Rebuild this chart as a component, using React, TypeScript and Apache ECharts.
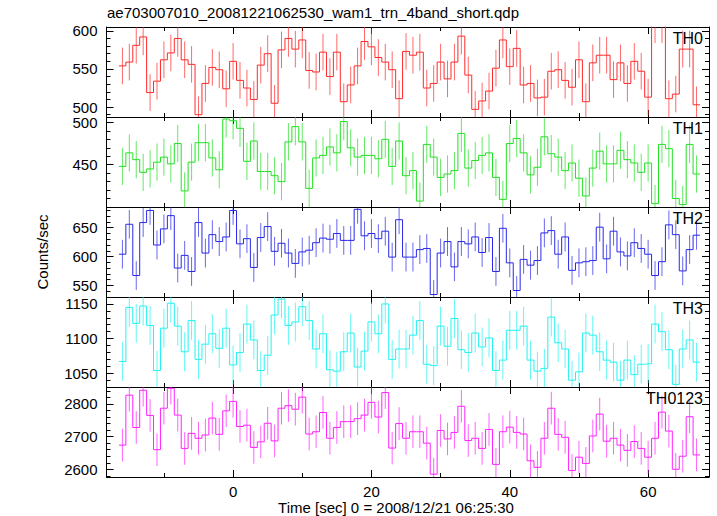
import React, { useEffect, useRef } from "react";
import * as echarts from "echarts";

const TITLE = "ae703007010_20081221062530_wam1_trn_4band_short.qdp";
const X_LABEL = "Time [sec] 0 = 2008/12/21 06:25:30";
const Y_LABEL = "Counts/sec";
const BAND_NAMES = ["TH0", "TH1", "TH2", "TH3", "TH0123"];
const COLORS = ["#ff2a2a", "#22e022", "#2828e8", "#22f2f2", "#ff22ff"];

// first bin centre (sec), bin width 1 sec
const TIME_START = -16;

const TH0 = [
  554, 559, 581, 592, 519, 534, 562, 571, 590, 562, 556, 490, 531, 552, 549, 524, 560, 535, 525, 510, 555,
  570, 505, 575, 590, 576, 588, 548, 546, 572, 540, 572, 507, 529, 554, 586, 579, 565, 559, 549, 511,
  573, 568, 572, 525, 531, 559, 537, 559, 593, 542, 497, 508, 521, 551, 588, 553, 577, 529, 531, 512,
  513, 547, 549, 535, 526, 562, 507, 558, 568, 568, 536, 558, 531, 560, 547, 513, 608, 608, 511, 517,
  576, 576, 503,
];
const TH1 = [
  448, 464, 456, 441, 445, 453, 459, 451, 475, 419, 453, 476, 476, 458, 444, 504, 502, 493, 454, 478, 442,
  442, 437, 430, 477, 495, 477, 422, 458, 461, 471, 464, 501, 470, 459, 461, 461, 457, 480, 448, 478,
  437, 443, 407, 474, 459, 435, 439, 443, 487, 446, 455, 461, 464, 435, 409, 475, 481, 464, 438, 447,
  483, 463, 459, 443, 452, 434, 413, 446, 466, 451, 451, 467, 456, 452, 441, 452, 404, 474, 469, 410,
  403, 474, 439,
];
const TH2 = [
  604, 656, 567, 659, 680, 620, 648, 671, 580, 602, 574, 659, 606, 638, 626, 634, 680, 622, 631, 581, 633,
  652, 609, 623, 606, 588, 608, 611, 624, 632, 630, 640, 628, 628, 682, 636, 640, 631, 644, 599, 664,
  599, 599, 612, 614, 534, 606, 626, 582, 626, 622, 634, 607, 633, 574, 649, 589, 541, 595, 585, 593,
  641, 645, 604, 634, 576, 589, 591, 593, 651, 596, 644, 608, 601, 624, 614, 604, 567, 591, 655, 638,
  575, 612, 637,
];
const TH3 = [
  1067, 1145, 1122, 1147, 1119, 1054, 1115, 1151, 1118, 1081, 1126, 1070, 1092, 1107, 1086, 1115, 1062,
  1080, 1121, 1098, 1054, 1076, 1134, 1157, 1119, 1124, 1146, 1126, 1085, 1107, 1055, 1053, 1081, 1108,
  1059, 1082, 1124, 1107, 1150, 1070, 1085,
  1085, 1105, 1126, 1063, 1061, 1118, 1089, 1129, 1084, 1080, 1108, 1088, 1101, 1054, 1069, 1112, 1112,
  1118, 1069, 1053, 1057, 1131, 1094, 1085, 1040, 1052, 1108, 1105, 1081, 1069, 1066, 1040, 1069, 1048,
  1063, 1064, 1121, 1110, 1084, 1034, 1085, 1098, 1066,
];
const TH0123 = [
  2674, 2827, 2728, 2842, 2765, 2660, 2787, 2848, 2766, 2664, 2710, 2695, 2705, 2757, 2707, 2779, 2808,
  2731, 2735, 2667, 2684, 2741, 2687, 2787, 2795, 2784, 2821, 2708, 2715, 2774, 2695, 2728, 2746, 2746,
  2755, 2766, 2805, 2760, 2835, 2665, 2740,
  2695, 2715, 2715, 2680, 2585, 2719, 2693, 2713, 2793, 2688, 2695, 2664, 2722, 2615, 2715, 2729, 2713,
  2708, 2626, 2606, 2695, 2787, 2707, 2698, 2596, 2637, 2618, 2702, 2769, 2686, 2695, 2674, 2658, 2685,
  2664, 2637, 2695, 2775, 2717, 2600, 2640, 2761, 2644,
];
// approximate 1-sigma error half-widths per band
const ERRORS = [24, 22, 25, 28, 50];

const SERIES = [TH0, TH1, TH2, TH3, TH0123];

const X_MIN = -18.3;
const X_MAX = 68.8;
const X_MAJOR = [0, 20, 40, 60];
const X_MINOR = [-10, 10, 30, 50];

const Y_MIN = [487, 400, 529.7, 1030.2, 2576.4];
const Y_MAX = [605, 506.4, 686, 1160, 2852];
const Y_MAJOR = [
  [500, 550, 600],
  [450, 500],
  [550, 600, 650],
  [1050, 1100, 1150],
  [2600, 2700, 2800],
];
const Y_MINOR_STEP = [10, 10, 10, 10, 20];

const FONT = "'Liberation Sans', Arial, Helvetica, sans-serif";

function minorTicks(min: number, max: number, step: number): number[] {
  const out: number[] = [];
  for (let v = Math.ceil(min / step) * step; v <= max; v += step) out.push(v);
  return out;
}

export default function App() {
  const ref = useRef<HTMLDivElement>(null);
  useEffect(() => {
    if (!ref.current) return;
    const chart = echarts.init(ref.current, undefined, { renderer: "svg" });

    const LEFT = 106.5;
    const RIGHT = 8;
    const TOP = 27;
    const H = 90;

    const grids: any[] = [];
    const xAxes: any[] = [];
    const yAxes: any[] = [];
    const series: any[] = [];
    const graphics: any[] = [];

    const line = { show: true, onZero: false, lineStyle: { color: "#000", width: 1 } };
    const noLine = { show: false, onZero: false };
    const plain = (v: number) => String(v);

    SERIES.forEach((vals, i) => {
      grids.push({ left: LEFT, right: RIGHT, top: TOP + H * i, height: H, containLabel: false });
      const xBase = xAxes.length;
      const mkX = (pos: string, ticks: number[], len: number, showLine: boolean, labels: boolean) => ({
        type: "value",
        gridIndex: i,
        position: pos,
        min: X_MIN,
        max: X_MAX,
        axisLine: showLine ? line : noLine,
        axisTick: { show: true, inside: true, length: len, customValues: ticks, lineStyle: { color: "#000", width: 1 } },
        axisLabel: labels
          ? { show: true, customValues: ticks, formatter: plain, color: "#000", fontSize: 15, fontFamily: FONT, margin: 7 }
          : { show: false },
        splitLine: { show: false },
      });
      xAxes.push(mkX("bottom", X_MAJOR, 7, true, i === SERIES.length - 1));
      xAxes.push(mkX("bottom", X_MINOR, 4, false, false));
      xAxes.push(mkX("top", X_MAJOR, 7, true, false));
      xAxes.push(mkX("top", X_MINOR, 4, false, false));

      const yBase = yAxes.length;
      const minor = minorTicks(Y_MIN[i], Y_MAX[i], Y_MINOR_STEP[i]).filter((v) => Y_MAJOR[i].indexOf(v) < 0);
      const mkY = (pos: string, ticks: number[], len: number, showLine: boolean, labels: boolean) => ({
        type: "value",
        gridIndex: i,
        position: pos,
        min: Y_MIN[i],
        max: Y_MAX[i],
        axisLine: showLine ? line : noLine,
        axisTick: { show: true, inside: true, length: len, customValues: ticks, lineStyle: { color: "#000", width: 1 } },
        axisLabel: labels
          ? { show: true, customValues: ticks, formatter: plain, color: "#000", fontSize: 15, fontFamily: FONT, margin: 9 }
          : { show: false },
        splitLine: { show: false },
      });
      yAxes.push(mkY("left", Y_MAJOR[i], 7, true, true));
      yAxes.push(mkY("left", minor, 4, false, false));
      yAxes.push(mkY("right", Y_MAJOR[i], 7, true, false));
      yAxes.push(mkY("right", minor, 4, false, false));

      const color = COLORS[i];
      const err = ERRORS[i];
      const errData = vals.map((v, k) => [TIME_START + k, v, err]);
      series.push({
        type: "custom",
        xAxisIndex: xBase,
        yAxisIndex: yBase,
        data: errData,
        encode: { x: 0, y: 1 },
        z: 2,
        renderItem: (params: any, api: any) => {
          const t = api.value(0);
          const v = api.value(1);
          const e = api.value(2);
          const top = api.coord([t, v + e]);
          const bot = api.coord([t, v - e]);
          const cs = params.coordSys;
          const clamp = (y: number) => Math.max(cs.y, Math.min(cs.y + cs.height, y));
          return {
            type: "line",
            shape: { x1: top[0], y1: clamp(top[1]), x2: top[0], y2: clamp(bot[1]) },
            style: { stroke: color, lineWidth: 1, opacity: 0.7 },
          };
        },
      });
      const stepData = vals.map((v, k) => [TIME_START + k - 0.5, v]);
      stepData.push([TIME_START + vals.length - 0.5, vals[vals.length - 1]]);
      series.push({
        type: "line",
        xAxisIndex: xBase,
        yAxisIndex: yBase,
        data: stepData,
        step: "end",
        symbol: "none",
        clip: true,
        z: 3,
        lineStyle: { color, width: 1 },
      });

      graphics.push({
        type: "text",
        x: 703,
        y: TOP + H * i + 11,
        style: {
          text: BAND_NAMES[i],
          fill: "#000",
          fontSize: 16,
          fontFamily: FONT,
          textAlign: "right",
          textVerticalAlign: "middle",
        },
        z: 10,
      });
    });

    graphics.push({
      type: "text",
      x: 107,
      y: 12,
      style: { text: TITLE, fill: "#000", fontSize: 15, fontFamily: FONT, textAlign: "left", textVerticalAlign: "middle" },
    });
    graphics.push({
      type: "text",
      x: 396,
      y: 507,
      style: { text: X_LABEL, fill: "#000", fontSize: 15, fontFamily: FONT, textAlign: "center", textVerticalAlign: "middle" },
    });
    graphics.push({
      type: "text",
      x: 42,
      y: TOP + (H * SERIES.length) / 2,
      rotation: Math.PI / 2,
      style: { text: Y_LABEL, fill: "#000", fontSize: 15, fontFamily: FONT, textAlign: "center", textVerticalAlign: "middle" },
    });

    chart.setOption({
      animation: false,
      backgroundColor: "#fff",
      grid: grids,
      xAxis: xAxes,
      yAxis: yAxes,
      series,
      graphic: graphics,
    });
    return () => chart.dispose();
  }, []);
  return <div ref={ref} style={{ position: "fixed", left: 0, top: 0, width: 717, height: 516 }} />;
}
